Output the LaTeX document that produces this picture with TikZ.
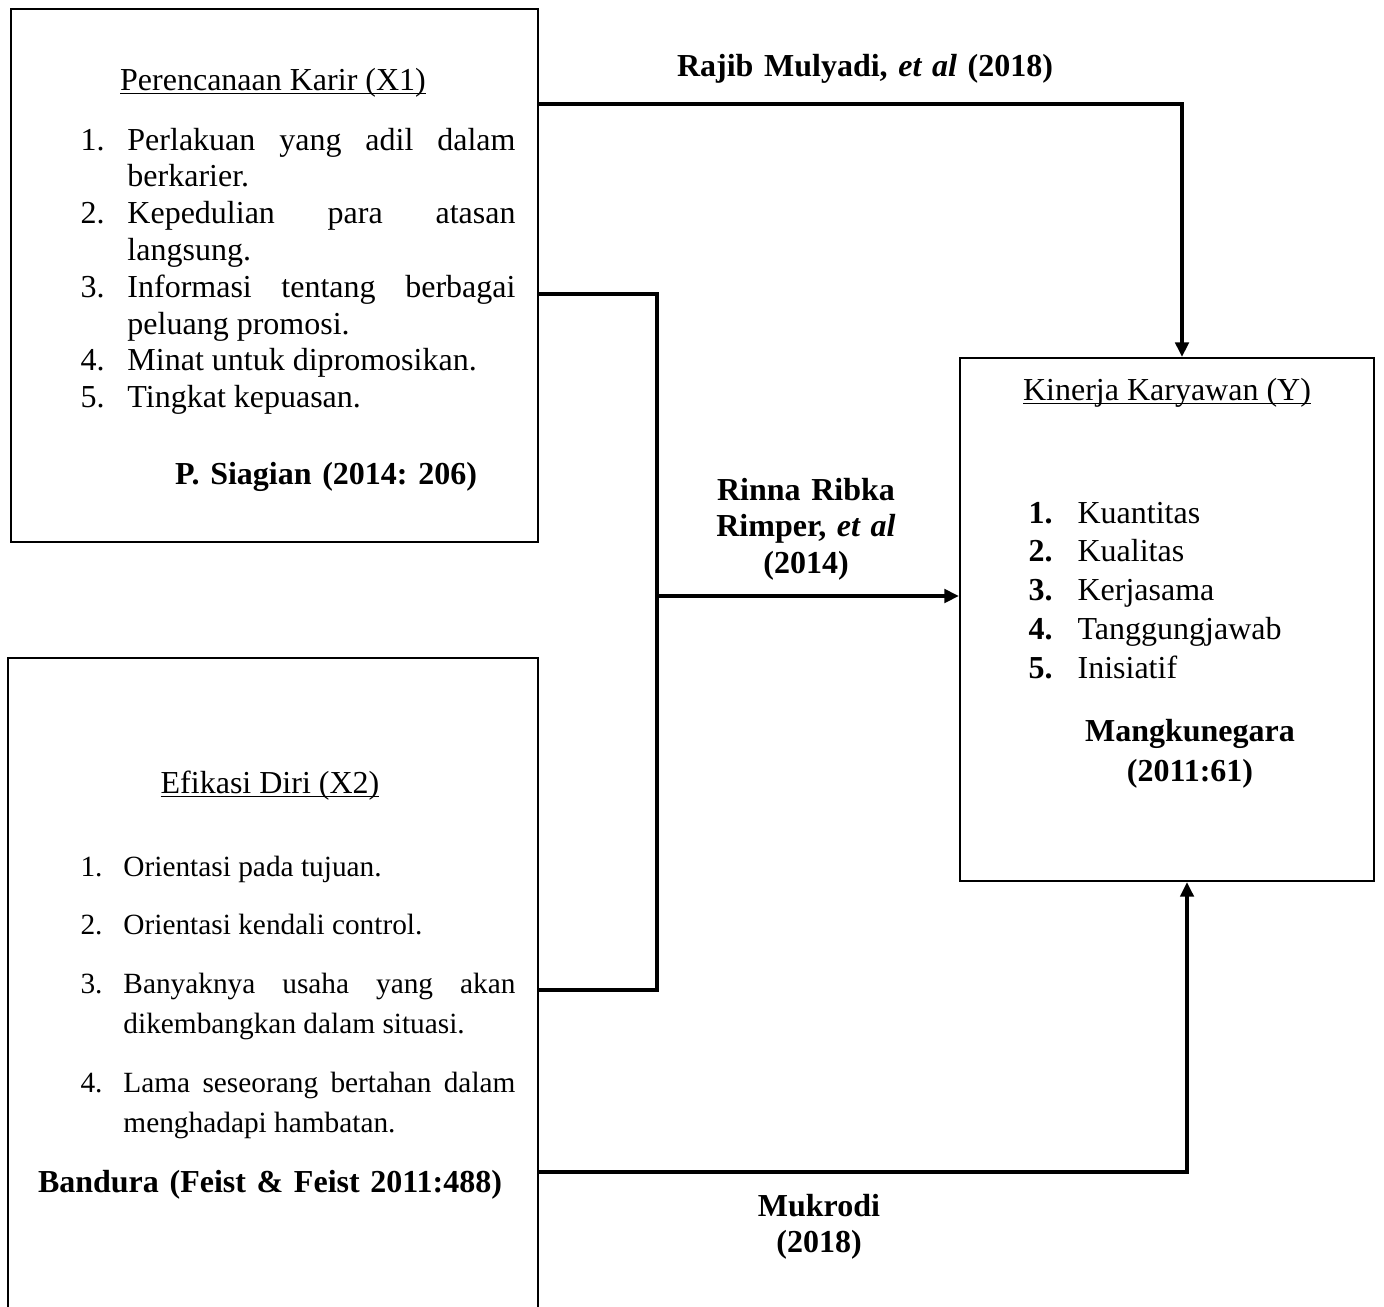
\documentclass[tikz,border=0pt]{standalone}
\usepackage{fontspec}
\setmainfont{Liberation Serif}
\usetikzlibrary{arrows.meta}

\newlength{\lsind}
\newcommand{\lsitem}[2]{\hangindent=\lsind\hangafter=1\noindent\makebox[\lsind][l]{#1}#2\par}
\newcommand{\ulteks}[1]{\setbox0\hbox{#1}\rlap{\rule[-1.6pt]{\wd0}{0.6pt}}\box0}
\hyphenpenalty=10000
\tolerance=10000
\frenchspacing

\tikzset{
	kotak/.style={draw, line width=0.8pt, inner sep=0pt, anchor=north west},
	panah/.style={line width=1.6pt},
	daftar/.style={anchor=base west, inner sep=0pt, align=justify},
	judul/.style={anchor=base, inner sep=0pt, font=\fontsize{12}{13.8}\selectfont},
	sumber/.style={anchor=base, inner sep=0pt, align=center, text width=220pt, font=\fontsize{12}{13.8}\selectfont\bfseries},
}

\begin{document}
\begin{tikzpicture}[x=0.375pt, y=-0.375pt, >={Triangle[length=5.5pt, width=5pt]}]
	\useasboundingbox (0,0) rectangle (1384,1306);
	
	% Kotak variabel
	\node[kotak, minimum width=197.6pt, minimum height=199.9pt] (x1) at (10,8) {};
	\node[kotak, minimum width=198.75pt, minimum height=252.4pt] (x2) at (7,657) {};
	\node[kotak, minimum width=155.25pt, minimum height=196.1pt] (y) at (959,357) {};
	
	% Isi kotak X1
	\node[judul] (jx1) at (273,90) {\ulteks{Perencanaan Karir (X1)}};
	\node[daftar, text width=163.1pt, font=\fontsize{12}{13.8}\selectfont] (lx1) at (80,150) {%
		\setlength{\lsind}{17.6pt}%
		\lsitem{1.}{Perlakuan yang adil dalam\linebreak berkarier.}
		\lsitem{2.}{Kepedulian para atasan\linebreak langsung.}
		\lsitem{3.}{Informasi tentang berbagai\linebreak peluang promosi.}
		\lsitem{4.}{Minat untuk dipromosikan.}
		\lsitem{5.}{Tingkat kepuasan.}};
	\node[sumber] (sx1) at (326,484) {P. Siagian (2014: 206)};
	
	% Isi kotak X2
	\node[judul] (jx2) at (270,793) {\ulteks{Efikasi Diri (X2)}};
	\node[daftar, text width=163.1pt, font=\fontsize{11}{15}\selectfont] (lx2) at (80,876) {%
		\setlength{\lsind}{16.1pt}\setlength{\parskip}{7pt}%
		\lsitem{1.}{Orientasi pada tujuan.}
		\lsitem{2.}{Orientasi kendali control.}
		\lsitem{3.}{Banyaknya usaha yang akan\linebreak dikembangkan dalam situasi.}
		\lsitem{4.}{Lama seseorang bertahan dalam\linebreak menghadapi hambatan.}};
	\node[sumber] (sx2) at (270,1192) {Bandura (Feist \& Feist 2011:488)};
	
	% Isi kotak Y
	\node[judul] (jy) at (1167,400) {\ulteks{Kinerja Karyawan (Y)}};
	\node[daftar, text width=120pt, font=\fontsize{12}{14.6}\selectfont] (ly) at (1028,523) {%
		\setlength{\lsind}{18.4pt}%
		\lsitem{\textbf{1.}}{Kuantitas}
		\lsitem{\textbf{2.}}{Kualitas}
		\lsitem{\textbf{3.}}{Kerjasama}
		\lsitem{\textbf{4.}}{Tanggungjawab}
		\lsitem{\textbf{5.}}{Inisiatif}};
	\node[sumber, font=\fontsize{12}{15}\selectfont\bfseries] (sy) at (1190,741) {Mangkunegara\\(2011:61)};
	
	% Garis penghubung
	\coordinate (a1) at (1182,104);
	\draw[panah,->] (x1.east |- a1) -| (y.north -| a1);
	\coordinate (a2) at (657,294);
	\coordinate (a3) at (657,990);
	\coordinate (a4) at (657,596);
	\draw[panah] (x1.east |- a2) -- (a2) -- (a3) -- (x2.east |- a3);
	\draw[panah,->] (a4) -- (y.west |- a4);
	\coordinate (a5) at (1187,1172);
	\draw[panah,->] (x2.east |- a5) -| (y.south -| a5);
	
	% Label peneliti
	\node[sumber] (l1) at (865,76) {Rajib Mulyadi, \textit{et al} (2018)};
	\node[sumber] (l2) at (806,500) {Rinna Ribka\\Rimper, \textit{et al}\\(2014)};
	\node[sumber] (l3) at (819,1216) {Mukrodi\\(2018)};
\end{tikzpicture}
\end{document}
